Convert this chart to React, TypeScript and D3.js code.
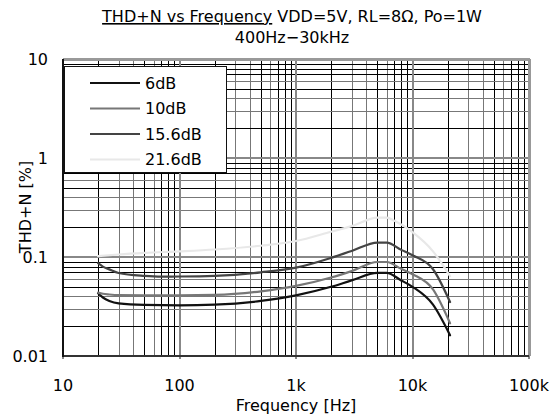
import React from "react";
import * as d3 from "d3";

const W = 559;
const H = 416;
const M = { left: 63, right: 529, top: 59, bottom: 356 };

const seriesNames = ["6dB", "10dB", "15.6dB", "21.6dB"];
const seriesColors = ["#111111", "#777777", "#444444", "#e8e8e8"];

const freq6 = [20, 22, 25, 30, 50, 100, 200, 500, 1000, 2000, 3000, 5000, 6000, 8000, 10000, 15000, 21000];
const thd6 = [0.043, 0.039, 0.036, 0.034, 0.0328, 0.0325, 0.033, 0.036, 0.041, 0.05, 0.058, 0.069, 0.069, 0.058, 0.05, 0.033, 0.0162];

const freq10 = [20, 22, 25, 30, 50, 100, 200, 500, 1000, 2000, 3000, 5000, 6000, 8000, 10000, 15000, 21000];
const thd10 = [0.0437, 0.0425, 0.0418, 0.0412, 0.041, 0.041, 0.0414, 0.045, 0.051, 0.062, 0.072, 0.089, 0.089, 0.076, 0.067, 0.047, 0.0214];

const freq156 = [20, 22, 25, 30, 50, 70, 100, 200, 500, 1000, 2000, 3000, 5000, 6000, 8000, 10000, 15000, 21000];
const thd156 = [0.0865, 0.08, 0.075, 0.069, 0.0645, 0.0634, 0.0635, 0.0645, 0.07, 0.078, 0.098, 0.115, 0.14, 0.14, 0.118, 0.104, 0.0752, 0.0351];

const freq216 = [20, 30, 50, 100, 200, 500, 1000, 2000, 3000, 5000, 6000, 7000, 10000, 15000, 21000];
const thd216 = [0.102, 0.106, 0.11, 0.114, 0.119, 0.13, 0.145, 0.18, 0.205, 0.25, 0.25, 0.232, 0.178, 0.114, 0.064];

const xTicks = [10, 100, 1000, 10000, 100000];
const xTickLabels = ["10", "100", "1k", "10k", "100k"];
const yTicks = [10, 1, 0.1, 0.01];
const yTickLabels = ["10", "1", "0.1", "0.01"];

const titleMain = "THD+N vs Frequency";
const titleRest = " VDD=5V, RL=8\u03A9, Po=1W";
const subtitle = "400Hz\u221230kHz";
const xTitle = "Frequency [Hz]";
const yTitle = "THD+N [%]";

const FONT = "'DejaVu Sans', 'Liberation Sans', Arial, sans-serif";
const FS = 16;

// pattern of minor gridline shades (index 2..9)
const minorShade: Record<number, string> = {
  2: "#000", 3: "#777", 4: "#777", 5: "#000", 6: "#777", 7: "#000", 8: "#000", 9: "#000",
};

export default function App() {
  const x = d3.scaleLog().domain([10, 100000]).range([M.left, M.right]);
  const y = d3.scaleLog().domain([0.01, 10]).range([M.bottom, M.top]);

  const series = [
    { f: freq6, v: thd6 },
    { f: freq10, v: thd10 },
    { f: freq156, v: thd156 },
    { f: freq216, v: thd216 },
  ];

  const line = d3
    .line<[number, number]>()
    .x((d) => x(d[0]))
    .y((d) => y(d[1]))
    .curve(d3.curveMonotoneX);

  const vMinor: { v: number; c: string }[] = [];
  for (let dec = 10; dec < 100000; dec *= 10) {
    for (let k = 2; k <= 9; k++) vMinor.push({ v: dec * k, c: minorShade[k] });
  }
  const hMinor: { v: number; c: string }[] = [];
  for (let dec = 0.01; dec < 9; dec *= 10) {
    for (let k = 2; k <= 9; k++) hMinor.push({ v: dec * k, c: minorShade[k] });
  }

  const snap = (p: number) => Math.round(p) + 0.5;

  const legendX = 64;
  const legendY = 66;
  const legendW = 162;
  const legendH = 106;
  const rowGap = 25.5;

  return (
    <svg
      width={W}
      height={H}
      style={{ position: "absolute", left: 0, top: 0, background: "#fff" }}
      fontFamily={FONT}
    >
      <rect x={0} y={0} width={W} height={H} fill="#fff" />
      {/* title */}
      <text x={292} y={22} textAnchor="middle" fontSize={FS} fill="#000">
        <tspan textDecoration="underline">{titleMain}</tspan>
        <tspan>{titleRest}</tspan>
      </text>
      <text x={292} y={43} textAnchor="middle" fontSize={FS} fill="#000">
        {subtitle}
      </text>

      {/* gridlines */}
      <g shapeRendering="crispEdges">
        {vMinor.map((g, i) => (
          <line key={"vm" + i} x1={snap(x(g.v))} x2={snap(x(g.v))} y1={M.top} y2={M.bottom} stroke={g.c} strokeWidth={1} />
        ))}
        {hMinor.map((g, i) => (
          <line key={"hm" + i} x1={M.left} x2={M.right} y1={snap(y(g.v))} y2={snap(y(g.v))} stroke={g.c} strokeWidth={1} />
        ))}
        {xTicks.map((t, i) => (
          <line key={"vM" + i} x1={x(t)} x2={x(t)} y1={M.top} y2={M.bottom + 3} stroke="#888" strokeWidth={2} />
        ))}
        {yTicks.map((t, i) => (
          <line key={"hM" + i} x1={M.left} x2={M.right} y1={y(t)} y2={y(t)} stroke="#888" strokeWidth={2} />
        ))}
        {/* frame */}
        <line x1={M.left} x2={M.right + 1} y1={M.top} y2={M.top} stroke="#999" strokeWidth={3} />
        <line x1={M.right} x2={M.right} y1={M.top} y2={M.bottom} stroke="#999" strokeWidth={3} />
        <line x1={M.left} x2={M.right} y1={M.bottom} y2={M.bottom} stroke="#333" strokeWidth={2} />
        <line x1={M.left} x2={M.left} y1={M.top} y2={M.bottom + 1} stroke="#111" strokeWidth={2} />
      </g>

      {/* curves */}
      <g fill="none" strokeWidth={2.2} strokeLinejoin="round" strokeLinecap="round">
        {series.map((s, i) => (
          <path
            key={"s" + i}
            d={line(s.f.map((f, j) => [f, s.v[j]] as [number, number])) || ""}
            stroke={seriesColors[i]}
          />
        ))}
      </g>

      {/* legend */}
      <rect x={legendX + 0.5} y={legendY + 0.5} width={legendW} height={legendH} fill="#fff" stroke="#111" strokeWidth={1} />
      {seriesNames.map((n, i) => {
        const cy = legendY + 17 + i * rowGap;
        return (
          <g key={"lg" + i}>
            <line x1={90} x2={140} y1={cy} y2={cy} stroke={seriesColors[i]} strokeWidth={2.2} />
            <text x={145} y={cy} dy="0.36em" fontSize={FS} fill="#000">
              {n}
            </text>
          </g>
        );
      })}

      {/* axis labels */}
      {xTicks.map((t, i) => (
        <text key={"xl" + i} x={x(t)} y={391} textAnchor="middle" fontSize={FS} fill="#000">
          {xTickLabels[i]}
        </text>
      ))}
      {yTicks.map((t, i) => (
        <text key={"yl" + i} x={48} y={y(t)} dy="0.36em" textAnchor="end" fontSize={FS} fill="#000">
          {yTickLabels[i]}
        </text>
      ))}
      <text x={296} y={411} textAnchor="middle" fontSize={FS} fill="#000">
        {xTitle}
      </text>
      <text
        transform={`translate(31, 207) rotate(-90)`}
        textAnchor="middle"
        fontSize={FS}
        fill="#000"
      >
        {yTitle}
      </text>
    </svg>
  );
}
